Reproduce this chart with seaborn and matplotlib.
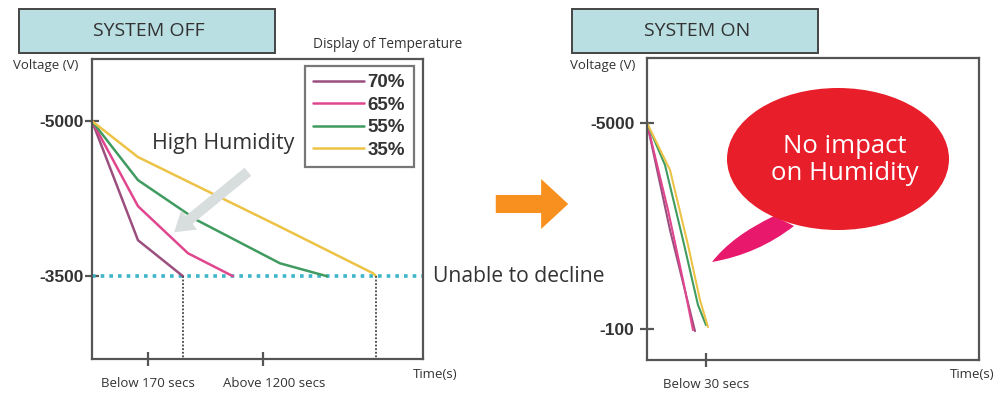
import matplotlib
matplotlib.use("Agg")
import numpy as np
import pandas as pd
import seaborn as sns
import matplotlib.pyplot as plt
from matplotlib.patches import Rectangle, Ellipse, PathPatch, FancyArrowPatch
from matplotlib.path import Path

# ---------------- data ----------------
humidity = ["70%", "65%", "55%", "35%"]
colors = ["#9b4f7e", "#e0468e", "#3f9b5f", "#ecc346"]

# SYSTEM OFF (time in arbitrary units, voltage in V)
off_time_70 = [0, 46, 91]
off_volt_70 = [-5000, -3848, -3500]
off_time_65 = [0, 46, 96, 141]
off_volt_65 = [-5000, -4177, -3722, -3500]
off_time_55 = [0, 46, 105, 188, 235]
off_volt_55 = [-5000, -4429, -4042, -3625, -3500]
off_time_35 = [0, 46, 185, 281, 284]
off_volt_35 = [-5000, -4652, -3993, -3529, -3500]

# SYSTEM ON
on_time_70 = [0, 23, 48]
on_volt_70 = [-5000, -2454, -50]
on_time_65 = [0, 21, 36, 46]
on_volt_65 = [-5000, -2930, -1265, -75]
on_time_55 = [0, 18, 36, 51, 59]
on_volt_55 = [-5000, -4001, -2217, -670, -194]
on_time_35 = [0, 23, 41, 53, 61]
on_volt_35 = [-5000, -3882, -2098, -789, -147]

off_yticks = [-5000, -3500]
off_xticks = [56, 171]
off_xticklabels = ["Below 170 secs", "Above 1200 secs"]
off_limit = -3500
off_end_times = [91, 284]

on_yticks = [-5000, -100]
on_xticks = [59]
on_xticklabels = ["Below 30 secs"]


def frame(times, volts):
    rows = []
    for h, t, v in zip(humidity, times, volts):
        for ti, vi in zip(t, v):
            rows.append({"Humidity": h, "Time": ti, "Voltage": vi})
    return pd.DataFrame(rows)


df_off = frame([off_time_70, off_time_65, off_time_55, off_time_35],
               [off_volt_70, off_volt_65, off_volt_55, off_volt_35])
df_on = frame([on_time_70, on_time_65, on_time_55, on_time_35],
              [on_volt_70, on_volt_65, on_volt_55, on_volt_35])

# ---------------- style ----------------
sns.set_theme(style="white")
plt.rcParams["font.family"] = ["Open Sans", "DejaVu Sans"]
TXT = "#333333"
SPINE = "#555555"

fig = plt.figure(figsize=(10, 3.96), dpi=100)
fig.patch.set_facecolor("white")

ax1 = fig.add_axes([0.092, 1 - 359 / 396, 0.331, 300 / 396])
ax2 = fig.add_axes([0.647, 1 - 360 / 396, 0.332, 302 / 396])

pal = dict(zip(humidity, colors))

sns.lineplot(data=df_off, x="Time", y="Voltage", hue="Humidity", hue_order=humidity,
             palette=pal, estimator=None, sort=False, lw=1.8, ax=ax1)
sns.lineplot(data=df_on, x="Time", y="Voltage", hue="Humidity", hue_order=humidity,
             palette=pal, estimator=None, sort=False, lw=1.5, ax=ax2, legend=False)

# left axis
ax1.set_xlim(0, 331)
ax1.set_ylim(-2700, -5600)
ax1.axhline(off_limit, ls=(0, (1, 1.4)), color="#3db4c8", lw=2.6, zorder=1)
ax1.vlines(off_end_times, off_limit, -2700, colors="#444444", linestyles=(0, (1, 1)), lw=1.3)
ax1.set_yticks(off_yticks)
ax1.set_yticklabels([str(v) for v in off_yticks])
ax1.set_xticks(off_xticks)
ax1.set_xticklabels(off_xticklabels)

# right axis
ax2.set_xlim(0, 332)
ax2.set_ylim(637, -6546)
ax2.set_yticks(on_yticks)
ax2.set_yticklabels([str(v) for v in on_yticks])
ax2.set_xticks(on_xticks)
ax2.set_xticklabels(on_xticklabels)

for ax in (ax1, ax2):
    ax.set_xlabel("")
    ax.set_ylabel("")
    for s in ax.spines.values():
        s.set_color(SPINE)
        s.set_linewidth(1.6)
        s.set_visible(True)
    ax.tick_params(axis="both", direction="inout", length=10, width=1.6, color=SPINE,
                   bottom=True, left=True, top=False, right=False)
    ax.tick_params(axis="x", pad=8, labelsize=9.5, labelcolor=TXT)
    ax.tick_params(axis="y", labelsize=12.5, labelcolor=TXT)
    for lab in ax.get_yticklabels():
        lab.set_fontfamily(["Liberation Sans Narrow", "Liberation Sans", "DejaVu Sans"])
        lab.set_fontweight("bold")
ax1.tick_params(axis="y", pad=1)
ax2.tick_params(axis="y", pad=4)

# the second label sits a little to the right of its tick in the original
from matplotlib.transforms import ScaledTranslation
lab2 = ax1.get_xticklabels()[1]
lab2.set_transform(lab2.get_transform() + ScaledTranslation(0.11, 0, fig.dpi_scale_trans))

handles, labels = ax1.get_legend_handles_labels()
leg = ax1.legend(handles, labels, loc="upper left", bbox_to_anchor=(0.643, 0.977),
                 frameon=True, fancybox=False, handlelength=2.7, handletextpad=0.2,
                 labelspacing=0.28, borderpad=0.45, borderaxespad=0,
                 prop={"family": ["Liberation Sans", "DejaVu Sans"], "weight": "bold", "size": 13.5})
leg.get_frame().set_edgecolor(SPINE)
leg.get_frame().set_linewidth(1.6)
for t in leg.get_texts():
    t.set_color(TXT)

# ---------------- overlay (pixel coordinates) ----------------
ov = fig.add_axes([0, 0, 1, 1], zorder=10)
ov.set_xlim(0, 1000)
ov.set_ylim(396, 0)
ov.axis("off")
ov.patch.set_alpha(0)

for x0, w, label in [(19, 256, "SYSTEM OFF"), (572, 246, "SYSTEM ON")]:
    ov.add_patch(Rectangle((x0, 9), w, 44, facecolor="#b9dfe3", edgecolor="#444444", lw=1.4))
    ov.text(x0 + w / 2 + 2, 31, label, ha="center", va="center", fontsize=14, color=TXT)

ov.text(313, 45, "Display of Temperature", ha="left", va="center", fontsize=9.8, color=TXT)
ov.text(13, 66, "Voltage (V)", ha="left", va="center", fontsize=9.5, color=TXT)
ov.text(570, 65, "Voltage (V)", ha="left", va="center", fontsize=9.5, color=TXT)
ov.text(413, 374, "Time(s)", ha="left", va="center", fontsize=9.5, color=TXT)
ov.text(950, 374, "Time(s)", ha="left", va="center", fontsize=9.5, color=TXT)
ov.text(152, 143, "High Humidity", ha="left", va="center", fontsize=15.4, color=TXT)
ov.text(433, 276, "Unable to decline", ha="left", va="center", fontsize=15.2, color=TXT)

# gray arrow
ov.add_patch(FancyArrowPatch((250, 170), (172, 234),
                             arrowstyle="simple,head_length=1.4,head_width=1.8,tail_width=0.75",
                             mutation_scale=10, color="#d8dddd", lw=0))
# orange arrow
ov.add_patch(FancyArrowPatch((493, 204), (571, 204),
                             arrowstyle="simple,head_length=1.95,head_width=3.6,tail_width=1.3",
                             mutation_scale=10, color="#f7901e", lw=0))

# speech bubble tail and ellipse
verts = [(774, 216), (732, 236), (712, 262), (758, 254), (794, 226), (774, 216)]
codes = [Path.MOVETO, Path.CURVE3, Path.CURVE3, Path.CURVE3, Path.CURVE3, Path.CLOSEPOLY]
ov.add_patch(PathPatch(Path(verts, codes), facecolor="#e8186c", edgecolor="none"))
ov.add_patch(Ellipse((838, 159), 222, 142, facecolor="#e81e2a", edgecolor="none"))
ov.text(845, 160, "No impact\non Humidity", ha="center", va="center", fontsize=18.5,
        color="white", linespacing=1.15)

fig.savefig("out.png", dpi=100, facecolor="white")
